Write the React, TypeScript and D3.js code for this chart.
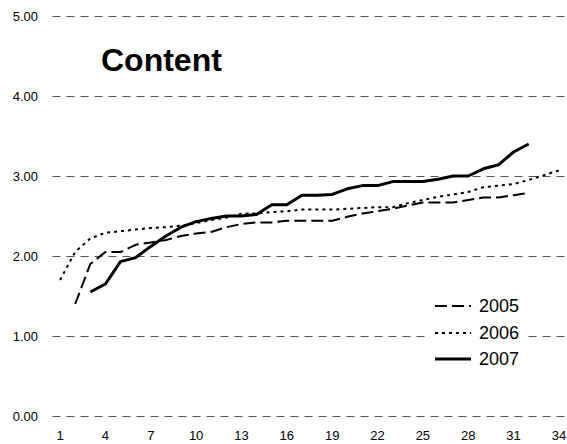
import React from "react";
import * as d3 from "d3";

const categories: number[] = Array.from({ length: 34 }, (_, i) => i + 1);
const xTickLabels: number[] = [1, 4, 7, 10, 13, 16, 19, 22, 25, 28, 31, 34];
const yTicks: number[] = [0, 1, 2, 3, 4, 5];

const s2005: (number | null)[] = [
  null, 1.40, 1.90, 2.05, 2.05, 2.14, 2.17, 2.20, 2.25, 2.28,
  2.30, 2.36, 2.40, 2.42, 2.42, 2.44, 2.44, 2.44, 2.44, 2.49,
  2.53, 2.56, 2.59, 2.63, 2.67, 2.67, 2.67, 2.70, 2.73, 2.73,
  2.76, 2.79, null, null,
];
const s2006: (number | null)[] = [
  1.70, 2.05, 2.22, 2.29, 2.31, 2.33, 2.35, 2.36, 2.38, 2.41,
  2.45, 2.48, 2.53, 2.53, 2.55, 2.56, 2.58, 2.58, 2.58, 2.59,
  2.60, 2.61, 2.61, 2.66, 2.70, 2.74, 2.77, 2.80, 2.86, 2.88,
  2.90, 2.95, 3.01, 3.07,
];
const s2007: (number | null)[] = [
  null, null, 1.55, 1.65, 1.93, 1.98, 2.12, 2.25, 2.36, 2.43,
  2.47, 2.50, 2.50, 2.52, 2.64, 2.64, 2.76, 2.76, 2.77, 2.84,
  2.88, 2.88, 2.93, 2.93, 2.93, 2.96, 3.00, 3.00, 3.09, 3.14,
  3.30, 3.40, null, null,
];

const seriesNames = ["2005", "2006", "2007"];
const seriesData = [s2005, s2006, s2007];
const seriesStyles = [
  { dash: "12,5", width: 2 },
  { dash: "3,4", width: 2 },
  { dash: "none", width: 3 },
];

const W = 567;
const H = 444;
const plotLeft = 52.5;
const plotRight = 566.5;
const FONT = "'Liberation Sans', Arial, sans-serif";

export default function App() {
  const x = d3
    .scaleBand<number>()
    .domain(categories)
    .range([plotLeft, plotRight]);
  const cx = (c: number) => (x(c) as number) + x.bandwidth() / 2;
  const y = d3.scaleLinear().domain([0, 5]).range([416, 16]);

  const line = d3
    .line<number | null>()
    .defined((d) => d != null)
    .x((_, i) => cx(categories[i]))
    .y((d) => y(d as number));

  const legendX = 435;
  const legendYs = [306, 333, 359];

  return (
    <svg
      width={W}
      height={H}
      style={{ position: "absolute", left: 0, top: 0, background: "#fff" }}
      fontFamily={FONT}
    >
      <rect x={0} y={0} width={W} height={H} fill="#fff" />
      {yTicks.map((t) => (
        <g key={t}>
          <line
            x1={plotLeft}
            x2={plotRight}
            y1={y(t) + 0.5}
            y2={y(t) + 0.5}
            stroke="#555"
            strokeWidth={1}
            strokeDasharray="8,6"
          />
          <text
            x={38}
            y={y(t)}
            dy="0.35em"
            textAnchor="end"
            fontSize={13}
            fill="#000"
          >
            {t.toFixed(2)}
          </text>
        </g>
      ))}
      {xTickLabels.map((c) => (
        <text
          key={c}
          x={cx(c)}
          y={440}
          textAnchor="middle"
          fontSize={13}
          fill="#000"
        >
          {c}
        </text>
      ))}
      <text x={101} y={71} fontSize={32} fontWeight="bold" fill="#000">
        Content
      </text>
      {seriesData.map((s, k) => (
        <path
          key={k}
          d={line(s) || ""}
          fill="none"
          stroke="#000"
          strokeWidth={seriesStyles[k].width}
          strokeDasharray={seriesStyles[k].dash}
          strokeLinejoin="round"
        />
      ))}
      <rect x={425} y={292} width={103} height={80} fill="#fff" />
      {seriesNames.map((n, k) => (
        <g key={n}>
          <line
            x1={legendX}
            x2={legendX + 36}
            y1={legendYs[k]}
            y2={legendYs[k]}
            stroke="#000"
            strokeWidth={seriesStyles[k].width}
            strokeDasharray={seriesStyles[k].dash}
          />
          <text
            x={legendX + 44}
            y={legendYs[k]}
            dy="0.35em"
            fontSize={18}
            fill="#000"
          >
            {n}
          </text>
        </g>
      ))}
    </svg>
  );
}
